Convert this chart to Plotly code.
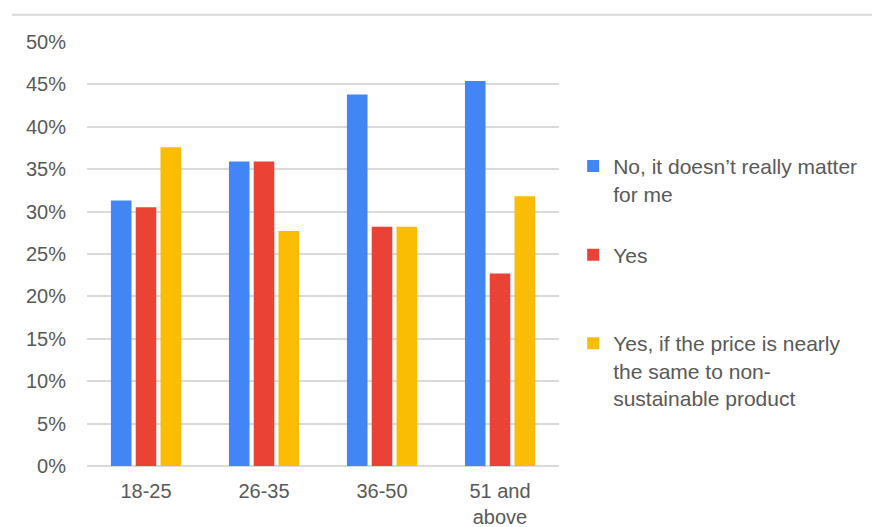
import plotly.graph_objects as go

categories = ["18-25", "26-35", "36-50", "51 and<br>above"]
series_names = [
    "No, it doesn’t really matter<br>for me",
    "Yes<br> ",
    "Yes, if the price is nearly<br>the same to non-<br>sustainable product",
]
no_matter = [0.313, 0.359, 0.438, 0.454]
yes = [0.305, 0.359, 0.282, 0.227]
yes_if_price = [0.376, 0.277, 0.282, 0.318]
colors = ["#4285F4", "#EA4335", "#FBBC04"]

FONT = "Liberation Sans, Arial, sans-serif"
TEXT = "#595959"

fig = go.Figure()
for i, (name, vals) in enumerate(zip(series_names, [no_matter, yes, yes_if_price])):
    fig.add_trace(go.Bar(
        x=categories, y=vals, name=name, marker_color=colors[i],
        marker_line_width=0, legendgroup=f"g{i}",
    ))

fig.update_layout(
    width=872, height=527,
    margin=dict(l=87, r=313, t=42, b=61, autoexpand=False),
    paper_bgcolor="white", plot_bgcolor="white",
    barmode="group", bargap=0.37, bargroupgap=0.17,
    font=dict(family=FONT, size=20, color=TEXT),
    showlegend=True,
    legend=dict(
        x=1.03, xanchor="left", y=0.755, yanchor="top",
        valign="top", tracegroupgap=31,
        font=dict(family=FONT, size=21, color=TEXT),
        bgcolor="rgba(0,0,0,0)",
    ),
    shapes=[dict(
        type="line", xref="paper", yref="paper",
        x0=-0.159, x1=2.0, y0=1.064, y1=1.064,
        line=dict(color="#d9d9d9", width=2),
    )],
)
fig.update_yaxes(
    range=[0, 0.5], dtick=0.05, tickformat=".0%", automargin=False,
    showgrid=True, gridcolor="#d9d9d9", gridwidth=1.5,
    zeroline=True, zerolinecolor="#d9d9d9", zerolinewidth=1.5,
    showline=False, ticks="", ticklabelstandoff=20,
    tickfont=dict(family=FONT, size=20, color=TEXT),
)
fig.update_xaxes(
    showgrid=False, showline=False, ticks="", ticklabelstandoff=11,
    automargin=False,
    tickfont=dict(family=FONT, size=20, color=TEXT),
)

fig.write_html(
    "out.html",
    config={"displayModeBar": False},
    post_script="document.body.style.margin='0';document.body.style.padding='0';",
)
